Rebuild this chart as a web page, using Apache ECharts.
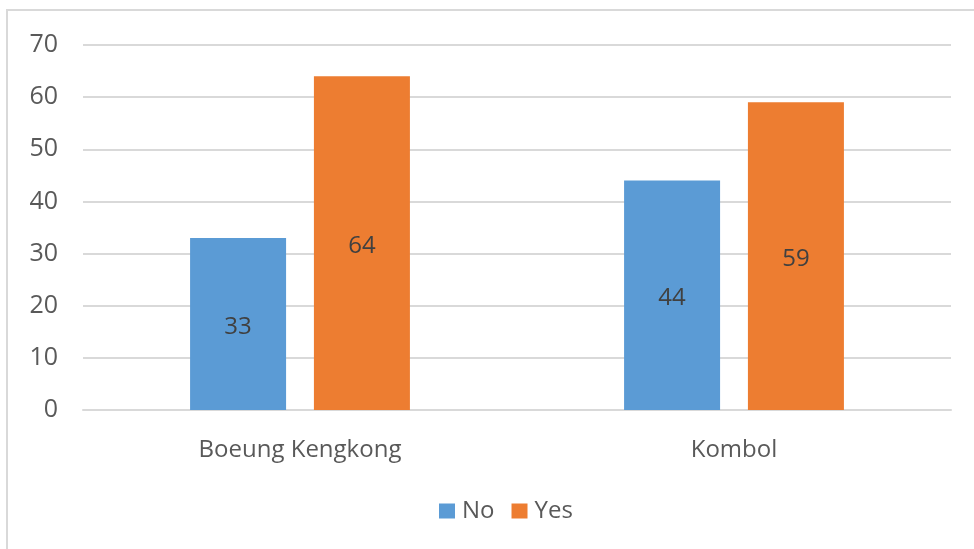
<!DOCTYPE html>
<html>
<head>
<meta charset="utf-8">
<script src="https://cdn.jsdelivr.net/npm/echarts@6/dist/echarts.min.js"></script>
<style>
  html, body { margin: 0; padding: 0; background: #fff; }
  #chart { width: 974px; height: 549px; }
</style>
</head>
<body>
<div id="chart"></div>
<script>
// Survey responses per site
const categories = ['Boeung Kengkong', 'Kombol'];
const noValues = [33, 44];
const yesValues = [64, 59];
const yTicks = { min: 0, max: 70, interval: 10 };

const FONT = '"Open Sans", "Noto Sans", sans-serif';
const TEXT = '#595959';

const chart = echarts.init(document.getElementById('chart'));

const barLabel = {
  show: true,
  position: 'inside',
  offset: [0, 3],
  color: '#404040',
  fontSize: 24,
  fontFamily: FONT
};

chart.setOption({
  animation: false,
  graphic: [{
    type: 'rect',
    shape: { x: 7, y: 10, width: 1000, height: 600 },
    style: { fill: 'none', stroke: '#d9d9d9', lineWidth: 2 },
    silent: true
  }],
  grid: { left: 83, right: 23, top: 45, bottom: 139, containLabel: false },
  legend: {
    bottom: 21,
    left: 434,
    itemWidth: 16,
    itemHeight: 15,
    itemGap: 17,
    icon: 'rect',
    textStyle: { color: TEXT, fontSize: 24, fontFamily: FONT, padding: [0, 0, 0, 2] },
    data: ['No', 'Yes']
  },
  xAxis: {
    type: 'category',
    data: categories,
    axisLine: { lineStyle: { color: '#d9d9d9', width: 2 } },
    axisTick: { show: false },
    axisLabel: { color: TEXT, fontSize: 24, fontFamily: FONT, margin: 28 }
  },
  yAxis: {
    type: 'value',
    min: yTicks.min,
    max: yTicks.max,
    interval: yTicks.interval,
    axisLine: { show: false },
    axisTick: { show: false },
    axisLabel: { color: TEXT, fontSize: 25, fontFamily: FONT, margin: 25 },
    splitLine: { lineStyle: { color: '#d9d9d9', width: 2 } }
  },
  series: [
    {
      name: 'No',
      type: 'bar',
      data: noValues,
      barWidth: 96,
      barGap: '29%',
      itemStyle: { color: '#5B9BD5' },
      label: barLabel
    },
    {
      name: 'Yes',
      type: 'bar',
      data: yesValues,
      barWidth: 96,
      itemStyle: { color: '#ED7D31' },
      label: barLabel
    }
  ]
});
</script>
</body>
</html>
